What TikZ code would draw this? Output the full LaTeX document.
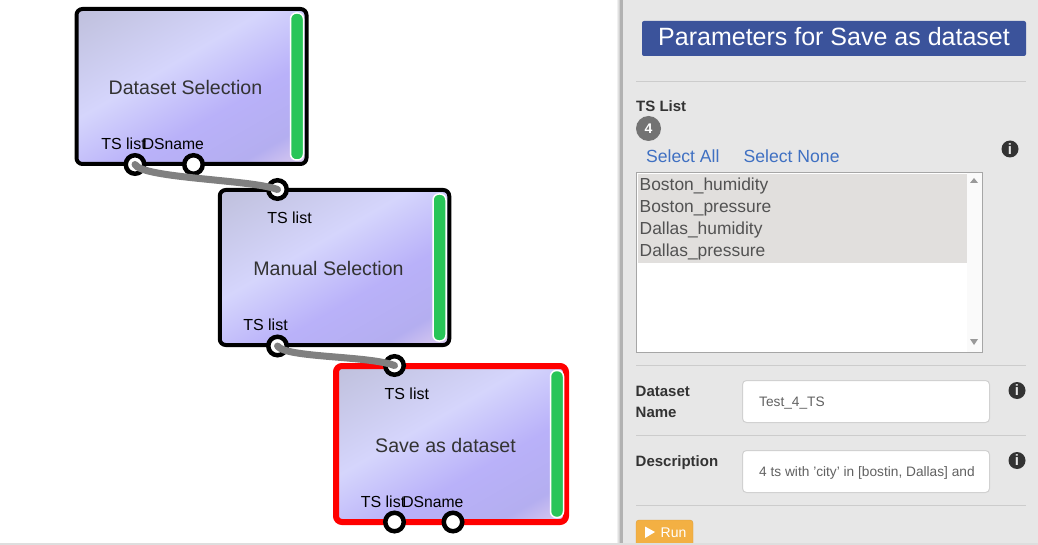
\documentclass[tikz,border=0pt]{standalone}
\usepackage{fontspec}
\setmainfont{Liberation Sans}
\definecolor{gA}{HTML}{BFC0DC}
\definecolor{gB}{HTML}{D5D5FC}
\definecolor{gC}{HTML}{B9B1F9}
\definecolor{gD}{HTML}{B4AEF0}
\definecolor{gE}{HTML}{DCCCF0}
\definecolor{panel}{HTML}{E7E7E7}
\definecolor{rulec}{HTML}{CCCCCC}
\definecolor{titleblue}{HTML}{3B539B}
\definecolor{linkblue}{HTML}{3F70C2}
\definecolor{barg}{HTML}{28C558}
\definecolor{inkc}{HTML}{333333}
\definecolor{selrow}{HTML}{E1DFDD}
\definecolor{runo}{HTML}{F3B043}
\pgfdeclareverticalshading{blockgrad}{100bp}{color(0bp)=(gE); color(15.85bp)=(gE); color(25bp)=(gD); color(40bp)=(gC); color(58bp)=(gB); color(84.15bp)=(gA); color(100bp)=(gA)}
\tikzset{
  fs/.style={font=\fontsize{#1}{#1}\selectfont},
  blockbox/.style={draw=black,line width=4pt,rounded corners=6pt,shade,shading=blockgrad,shading angle=30,inner sep=0pt},
  selbox/.style={blockbox,draw=red,line width=6pt},
  greenbar/.style={draw=white,line width=1.5pt,fill=barg,rounded corners=6pt,inner sep=0pt},
  porto/.style={circle,draw=black,fill=white,line width=4.5pt,minimum size=18.5pt,inner sep=0pt},
  wire/.style={draw=black!50,line width=7pt,line cap=round},
  blocktitle/.style={fs=19.6,text=inkc,anchor=center,inner sep=0pt},
  portlabel/.style={fs=16,text=black,anchor=center,inner sep=0pt},
  dslabel/.style={fs=15.7,text=black,anchor=center,inner sep=0pt},
  lab/.style={fs=15,text=inkc,anchor=base west,inner sep=0pt},
  labb/.style={lab,font=\fontsize{15}{15}\selectfont\bfseries},
  sepl/.style={draw=rulec,line width=1pt},
  item/.style={fs=17.4,text=black!68,anchor=base west,inner sep=0pt},
  linkt/.style={fs=17.6,text=linkblue,anchor=base west,inner sep=0pt},
  infoi/.style={circle,fill=inkc,text=panel,minimum size=17pt,inner sep=0pt,font=\fontsize{15}{15}\selectfont\bfseries},
  inputb/.style={draw=black!18,fill=white,line width=1pt,rounded corners=4pt,inner sep=0pt},
  inputt/.style={fs=13.7,text=black!62,anchor=base west,inner sep=0pt},
}
\begin{document}
\begin{tikzpicture}[x=1pt,y=-1pt]
\useasboundingbox (0,0) rectangle (1038,545);
\fill[white] (0,0) rectangle (1038,545);
% right panel
\shade[left color=white,right color=black!30] (616,0) rectangle (621,545);
\fill[black!30] (620,0) rectangle (623,545);
\fill[panel] (623,0) rectangle (1038,545);
% blocks
\node[blockbox,minimum width=230pt,minimum height=155pt] (b1) at (191.5,86.5) {};
\node[greenbar,minimum width=13pt,minimum height=147pt] (g1) at (297,86.5) {};
\node[blocktitle] (t1) at (185.5,87.5) {Dataset Selection};
\node[blockbox,minimum width=229.5pt,minimum height=155pt] (b2) at (334.5,267.5) {};
\node[greenbar,minimum width=13pt,minimum height=147pt] (g2) at (439.5,267.5) {};
\node[blocktitle] (t2) at (328.5,268.5) {Manual Selection};
\node[selbox,minimum width=230pt,minimum height=156pt] (b3) at (451,444) {};
\node[greenbar,minimum width=13pt,minimum height=147pt] (g3) at (557,444) {};
\node[blocktitle] (t3) at (445.5,445.5) {Save as dataset};
% port labels
\node[portlabel] (l1a) at (123.5,144) {TS list};
\node[dslabel] (l1b) at (173.3,144) {DSname};
\node[portlabel] (l2a) at (289.5,218) {TS list};
\node[portlabel] (l2b) at (265.5,325) {TS list};
\node[portlabel] (l3a) at (406.8,394) {TS list};
\node[portlabel] (l3b) at (383,502) {TS list};
\node[dslabel] (l3c) at (432.8,502) {DSname};
% ports
\node[porto] (p1a) at (135,164.5) {};
\node[porto] (p1b) at (193.5,164.5) {};
\node[porto] (p2a) at (277.5,189.5) {};
\node[porto] (p2b) at (277.5,346) {};
\node[porto] (p3a) at (394.5,365.5) {};
\node[porto] (p3b) at (394.5,522) {};
\node[porto] (p3c) at (453,522) {};
% connectors
\draw[wire] (p1a.center) .. controls +(8,14) and +(-26,-10) .. (p2a.center);
\draw[wire] (p2b.center) .. controls +(8,12) and +(-26,-10) .. (p3a.center);
% panel content
\node[fill=titleblue,rounded corners=2pt,minimum width=384pt,minimum height=35pt,inner sep=0pt] (ttl) at (834,38.5) {};
\node[fs=25,text=white,inner sep=0pt] (ttlt) at (834,36.5) {Parameters for Save as dataset};
\coordinate (r1a) at (636,81.5); \coordinate (r1b) at (1026,81.5);
\draw[sepl] (r1a) -- (r1b);
\node[labb] (tsl) at (636,112) {TS List};
\node[circle,fill=black!55,minimum size=25pt,inner sep=0pt,text=white,font=\fontsize{14}{14}\selectfont\bfseries] (badge) at (648.5,128.5) {4};
\node[linkt] (sa) at (646,162.5) {Select All};
\node[linkt] (sn) at (743.5,162.5) {Select None};
\node[infoi] (i1) at (1010,149) {i};
% list box
\node[draw=black!35,fill=white,line width=1pt,minimum width=346pt,minimum height=180pt,inner sep=0pt] (lbx) at (809.5,262.5) {};
\fill[selrow] (638,174) rectangle (967,263);
\fill[black!2] (967,173) rectangle (982,352);
\fill[black!40] (970,183) -- (978,183) -- (974,178) -- cycle;
\fill[black!40] (970,339) -- (978,339) -- (974,345) -- cycle;
\node[item] (o1) at (639.5,190.5) {Boston\_humidity};
\node[item] (o2) at (639.5,212.5) {Boston\_pressure};
\node[item] (o3) at (639.5,234.5) {Dallas\_humidity};
\node[item] (o4) at (639.5,256.5) {Dallas\_pressure};
\coordinate (r2a) at (636,365.5); \coordinate (r2b) at (1026,365.5);
\draw[sepl] (r2a) -- (r2b);
\node[labb] (dn1) at (635.5,396) {Dataset};
\node[labb] (dn2) at (635.5,417) {Name};
\node[inputb,minimum width=247pt,minimum height=42pt] (in1) at (866,401.5) {};
\node[inputt] (in1t) at (759,406) {Test\_4\_TS};
\node[infoi] (i2) at (1017,390.5) {i};
\coordinate (r3a) at (636,435.5); \coordinate (r3b) at (1026,435.5);
\draw[sepl] (r3a) -- (r3b);
\node[labb] (ds) at (635.5,466) {Description};
\node[inputb,minimum width=247pt,minimum height=42pt] (in2) at (866,471.5) {};
\node[inputt] (in2t) at (759,476) {4 ts with 'city' in [bostin, Dallas] and};
\node[infoi] (i3) at (1017,460.5) {i};
\coordinate (r4a) at (636,505.5); \coordinate (r4b) at (1026,505.5);
\draw[sepl] (r4a) -- (r4b);
% run button
\node[fill=runo,draw=runo!90!black,rounded corners=3pt,minimum width=57pt,minimum height=30pt,inner sep=0pt] (run) at (664.5,535) {};
\fill[white] (645,526.5) -- (655,532) -- (645,538) -- cycle;
\node[fs=14,text=white,anchor=base west,inner sep=0pt] (runt) at (660.5,537) {Run};
% bottom strip
\fill[black!13] (0,543) rectangle (1038,545);
\end{tikzpicture}
\end{document}
